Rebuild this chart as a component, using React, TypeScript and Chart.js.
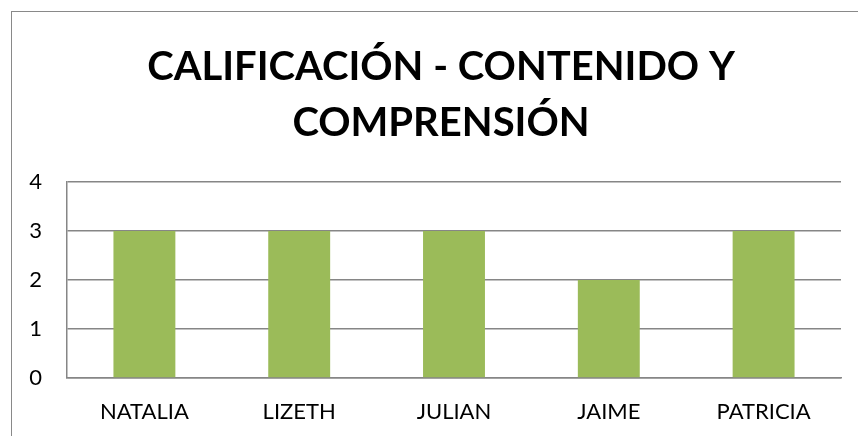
import React, { useEffect, useRef } from "react";
import { Chart, registerables } from "chart.js";

Chart.register(...registerables);

const categories = ["NATALIA", "LIZETH", "JULIAN", "JAIME", "PATRICIA"];
const scores = [3, 3, 3, 2, 3];
const titleLines = ["CALIFICACIÓN - CONTENIDO Y", "COMPRENSIÓN"];
const yTicks = [0, 1, 2, 3, 4];

const FONT = "Lato, 'Open Sans', sans-serif";

const titlePlugin = {
  id: "customTitle",
  afterDraw(chart: any) {
    const ctx = chart.ctx;
    ctx.save();
    ctx.fillStyle = "#000";
    ctx.font = `bold 40px ${FONT}`;
    ctx.textAlign = "center";
    ctx.textBaseline = "middle";
    const cx = 441;
    titleLines.forEach((line, i) => {
      ctx.fillText(line, cx, 67 + i * 56);
    });
    ctx.restore();
  },
};

export default function App() {
  const ref = useRef<HTMLCanvasElement | null>(null);

  useEffect(() => {
    if (!ref.current) return;
    const chart = new Chart(ref.current, {
      type: "bar",
      data: {
        labels: categories,
        datasets: [
          {
            data: scores,
            backgroundColor: "#9BBB59",
            borderWidth: 0,
            barPercentage: 0.4,
            categoryPercentage: 1,
          },
        ],
      },
      plugins: [titlePlugin],
      options: {
        animation: false,
        responsive: false,
        maintainAspectRatio: false,
        layout: { padding: { left: 12, right: 17, top: 182, bottom: 0 } },
        plugins: {
          legend: { display: false },
          tooltip: { enabled: false },
          title: { display: false },
        },
        scales: {
          x: {
            grid: { display: false, drawTicks: false },
            border: { display: true, color: "#868686", width: 1.5 },
            ticks: {
              color: "#000",
              font: { family: FONT, size: 22 },
              padding: 21,
              maxRotation: 0,
            },
            afterFit: (s: any) => {
              s.height = 58;
            },
          },
          y: {
            min: 0,
            max: 4,
            afterBuildTicks: (s: any) => {
              s.ticks = yTicks.map((v) => ({ value: v }));
            },
            grid: { color: "#868686", lineWidth: 1.5, drawTicks: false },
            border: { display: true, color: "#868686", width: 1.5 },
            ticks: {
              color: "#000",
              font: { family: FONT, size: 22 },
              padding: 25,
            },
            afterFit: (s: any) => {
              s.width = 55;
            },
          },
        },
      },
    });
    return () => chart.destroy();
  }, []);

  return (
    <div
      style={{
        position: "fixed",
        left: 0,
        top: 0,
        width: 858,
        height: 436,
        overflow: "hidden",
        background: "#fff",
      }}
    >
      <div
        style={{
          position: "absolute",
          left: 11,
          top: 11,
          width: 900,
          height: 500,
          border: "1px solid #898989",
          boxSizing: "border-box",
        }}
      />
      <canvas
        ref={ref}
        width={858}
        height={436}
        style={{ position: "absolute", left: 0, top: 0, width: 858, height: 436 }}
      />
    </div>
  );
}
